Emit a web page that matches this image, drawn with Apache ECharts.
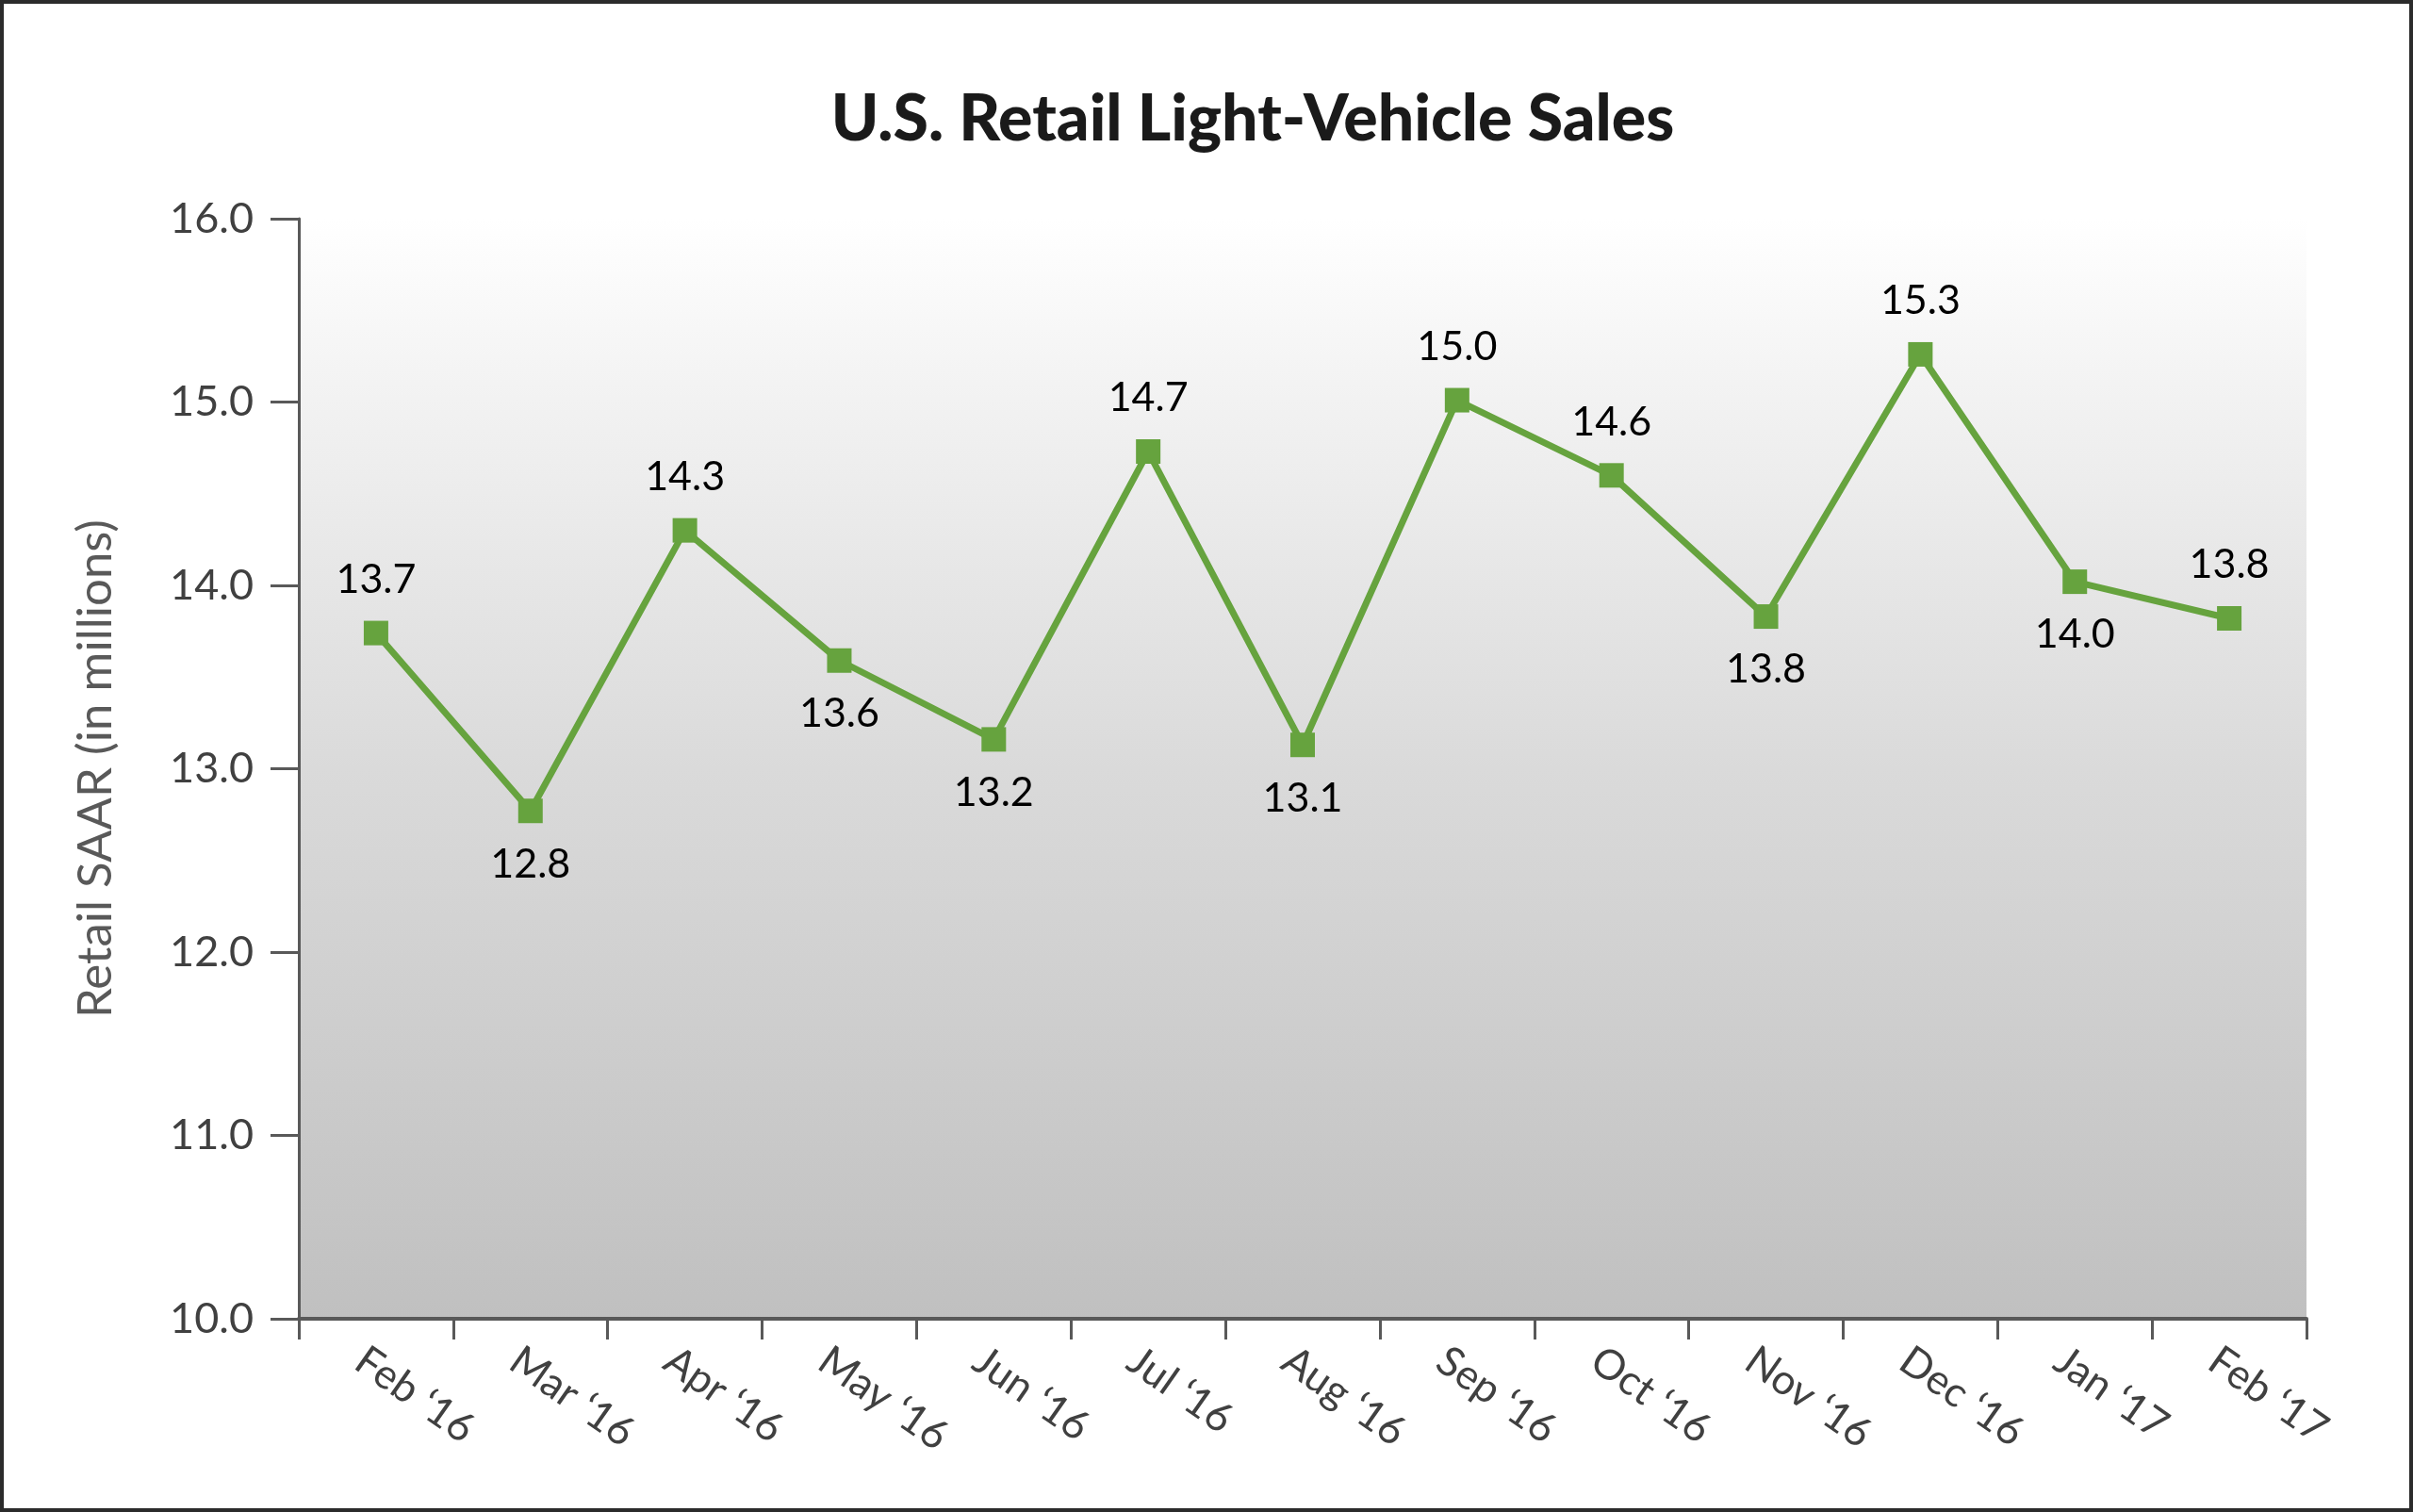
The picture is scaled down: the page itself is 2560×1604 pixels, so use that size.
<!DOCTYPE html>
<html>
<head>
<meta charset="utf-8">
<script src="https://cdn.jsdelivr.net/npm/echarts@6/dist/echarts.min.js"></script>
<style>
html,body{margin:0;padding:0;background:#fff;}
#chart{width:2560px;height:1604px;}
</style>
</head>
<body>
<div id="chart"></div>
<script>
const categories = ["Feb \u201816","Mar \u201816","Apr \u201816","May \u201816","Jun \u201816","Jul \u201816","Aug \u201816","Sep \u201816","Oct \u201816","Nov \u201816","Dec \u201816","Jan \u201817","Feb \u201817"];
const saar = [13.74, 12.77, 14.30, 13.59, 13.16, 14.73, 13.13, 15.01, 14.60, 13.83, 15.26, 14.02, 13.82];
const labelSide = ["top","bottom","top","bottom","bottom","top","bottom","top","top","bottom","top","bottom","top"];
const yTicks = [10, 11, 12, 13, 14, 15, 16];

const FONT = 'Lato';
const chart = echarts.init(document.getElementById('chart'), null, {renderer:'canvas'});

const option = {
  backgroundColor: '#ffffff',
  animation: false,
  title: {
    text: 'U.S. Retail Light-Vehicle Sales',
    left: 1324,
    top: 122,
    textAlign: 'center',
    textVerticalAlign: 'middle',
    textStyle: {fontFamily: FONT, fontWeight: 900, fontSize: 68, color: '#1a1a1a'}
  },
  graphic: [{
    type: 'rect',
    shape: {x: 2, y: 2, width: 2556, height: 1600},
    style: {fill: 'none', stroke: '#2b2b2b', lineWidth: 4},
    silent: true
  }],
  grid: {
    left: 317, right: 113, top: 232, bottom: 205,
    show: true,
    borderWidth: 0,
    backgroundColor: {
      type: 'linear', x: 0, y: 0, x2: 0, y2: 1,
      colorStops: [
        {offset: 0, color: '#ffffff'},
        {offset: 0.15, color: '#f3f3f3'},
        {offset: 0.5, color: '#dadada'},
        {offset: 1, color: '#c0c0c0'}
      ]
    }
  },
  xAxis: {
    type: 'category',
    data: categories,
    boundaryGap: true,
    axisLine: {lineStyle: {color: '#595959', width: 4}},
    axisTick: {show: true, length: 22, lineStyle: {color: '#595959', width: 3}},
    axisLabel: {
      rotate: -35,
      margin: 52,
      padding: [0, 0, 0, -21],
      fontFamily: FONT,
      fontSize: 44,
      color: '#404040',
      interval: 0
    },
    splitLine: {show: false}
  },
  yAxis: {
    type: 'value',
    min: yTicks[0],
    max: yTicks[yTicks.length - 1],
    interval: 1,
    name: 'Retail SAAR (in millions)',
    nameLocation: 'middle',
    nameRotate: 90,
    nameGap: 190,
    nameTextStyle: {fontFamily: FONT, fontSize: 51, color: '#595959'},
    axisLine: {show: true, lineStyle: {color: '#595959', width: 3}},
    axisTick: {show: true, length: 30, lineStyle: {color: '#595959', width: 3}},
    axisLabel: {
      margin: 48,
      fontFamily: FONT,
      fontSize: 45,
      color: '#404040',
      formatter: v => v.toFixed(1)
    },
    splitLine: {show: false}
  },
  series: [{
    type: 'line',
    data: saar.map((v, i) => ({
      value: v,
      label: {position: labelSide[i]}
    })),
    symbol: 'rect',
    symbolSize: 26,
    itemStyle: {color: '#66a33e'},
    lineStyle: {color: '#66a33e', width: 7},
    label: {
      show: true,
      distance: 22,
      fontFamily: FONT,
      fontSize: 43,
      color: '#000000',
      formatter: p => p.value.toFixed(1)
    }
  }]
};
chart.setOption(option);
</script>
</body>
</html>
